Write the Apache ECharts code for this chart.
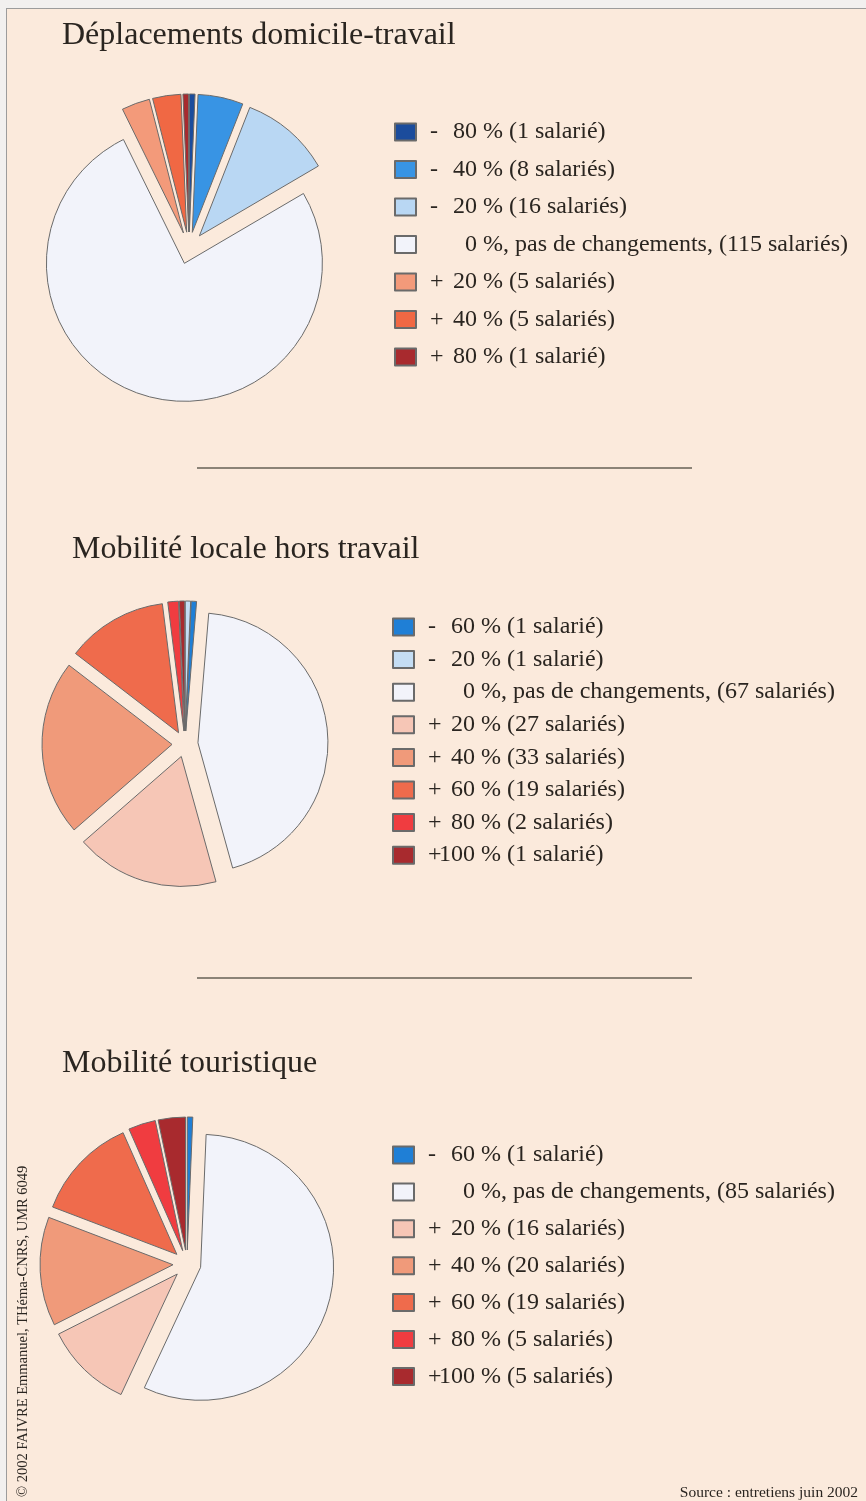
<!DOCTYPE html>
<html lang="fr">
<head>
<meta charset="utf-8">
<title>Mobilité</title>
<script src="https://cdn.jsdelivr.net/npm/echarts@6/dist/echarts.min.js"></script>
<style>
  html, body { margin: 0; padding: 0; background: #f2f0ef; }
  #frame {
    position: absolute; left: 6px; top: 8px; width: 866px; height: 1500px;
    background: #fbeadc; border-left: 1.5px solid #9c9c9c; border-top: 1.5px solid #9c9c9c;
  }
  #chart { position: absolute; left: 0; top: 0; width: 866px; height: 1501px; }
</style>
</head>
<body>
<div id="frame"></div>
<div id="chart"></div>
<script>
// Données (nombre de salariés par classe de variation)

// Déplacements domicile-travail
const pie1Labels = ['-80', '-40', '-20', '0', '+20', '+40', '+80'];
const pie1Values = [1, 8, 16, 115, 5, 5, 1];
const pie1Colors = ['#1b4c9c', '#3894e4', '#b9d7f3', '#f2f3fa', '#f39a7a', '#f06844', '#a82a2e'];

// Mobilité locale hors travail (ordre du camembert : -20 puis -60)
const pie2Labels = ['-20', '-60', '0', '+20', '+40', '+60', '+80', '+100'];
const pie2Values = [1, 1, 67, 27, 33, 19, 2, 1];
const pie2Colors = ['#c4ddf4', '#1f7fd6', '#f2f3fa', '#f6c6b6', '#f09a7a', '#ef6b4c', '#f03c40', '#a82a2e'];
const pie2LegendOrder = ['-60', '-20', '0', '+20', '+40', '+60', '+80', '+100'];

// Mobilité touristique
const pie3Labels = ['-60', '0', '+20', '+40', '+60', '+80', '+100'];
const pie3Values = [1, 85, 16, 20, 19, 5, 5];
const pie3Colors = ['#1f7fd6', '#f2f3fa', '#f6c6b6', '#f09a7a', '#ef6b4c', '#f03c40', '#a82a2e'];

const SERIF = '"Liberation Serif", "Times New Roman", serif';
const INK = '#2a2520';

/** Libellé complet d'une classe, tel qu'il figure dans la légende. */
function itemName(lab, n) {
  const who = n > 1 ? 'salariés' : 'salarié';
  if (lab === '0') return `0 %, pas de changements, (${n} ${who})`;
  return `${lab} % (${n} ${who})`;
}

function buildData(labels, values, colors) {
  return labels.map((lab, i) => ({
    name: itemName(lab, values[i]),
    value: values[i],
    selected: true,
    itemStyle: { color: colors[i] }
  }));
}

/** Légende : signe dans une colonne, nombres alignés à droite sur le « % ». */
function legendFormatter(name) {
  const m = name.match(/^([+-]?)(\d+)(.*)$/);
  if (!m) return name;
  const w = 47 - 12 * m[2].length;
  return `{p| }{s${w}|${m[1] || ' '}}{t|${m[2]}${m[3]}}`;
}

const richBase = { fontFamily: SERIF, fontSize: 24, lineHeight: 24, color: INK };
const rich = { p: Object.assign({ width: 9 }, richBase), t: Object.assign({}, richBase) };
[11, 23, 35].forEach(w => { rich['s' + w] = Object.assign({ width: w }, richBase); });

// Noms de légende dans l'ordre voulu, valeurs prises dans la série correspondante
function legendNames(order, labels, values) {
  return order.map(l => itemName(l, values[labels.indexOf(l)]));
}

function makeLegend(names, left, top, gap) {
  return {
    orient: 'vertical', left: left, top: top, padding: 0,
    itemWidth: 21, itemHeight: 17, itemGap: gap, icon: 'rect',
    selectedMode: false,
    data: names,
    formatter: legendFormatter,
    textStyle: { fontFamily: SERIF, fontSize: 24, lineHeight: 24, color: INK, rich: rich }
  };
}

function makePie(data, center, radius, offset) {
  return {
    type: 'pie', center: center, radius: radius,
    startAngle: 90, clockwise: true,
    selectedMode: 'multiple', selectedOffset: offset,
    label: { show: false }, labelLine: { show: false },
    emphasis: { disabled: true },
    itemStyle: { borderColor: '#6a6a6a', borderWidth: 1 },
    data: data
  };
}

const titleStyle = { fontFamily: SERIF, fontSize: 32, fontWeight: 'normal', color: INK };
const sepStyle = { stroke: '#8b8377', lineWidth: 2 };

const chart = echarts.init(document.getElementById('chart'), null, { renderer: 'canvas' });
chart.setOption({
  backgroundColor: 'transparent',
  animation: false,
  title: [
    { text: 'Déplacements domicile-travail', left: 62, top: 20, padding: 0, textStyle: titleStyle },
    { text: 'Mobilité locale hors travail', left: 72, top: 534, padding: 0, textStyle: titleStyle },
    { text: 'Mobilité touristique', left: 62, top: 1048, padding: 0, textStyle: titleStyle }
  ],
  legend: [
    makeLegend(legendNames(pie1Labels, pie1Labels, pie1Values), 394, 120, 13.5),
    makeLegend(legendNames(pie2LegendOrder, pie2Labels, pie2Values), 392, 615, 8.6),
    makeLegend(legendNames(pie3Labels, pie3Labels, pie3Values), 392, 1143, 12.9)
  ],
  series: [
    makePie(buildData(pie1Labels, pie1Values, pie1Colors), [189, 248], 138, 16),
    makePie(buildData(pie2Labels, pie2Values, pie2Colors), [185, 744], 130, 13),
    makePie(buildData(pie3Labels, pie3Values, pie3Colors), [187, 1264], 133, 14)
  ],
  graphic: [
    { type: 'line', shape: { x1: 197, y1: 468, x2: 692, y2: 468 }, style: sepStyle },
    { type: 'line', shape: { x1: 197, y1: 978, x2: 692, y2: 978 }, style: sepStyle },
    {
      type: 'text', x: 858, y: 1493,
      style: { text: 'Source : entretiens juin 2002', font: '15.5px ' + SERIF, fill: INK, textAlign: 'right', textVerticalAlign: 'middle' }
    },
    {
      type: 'text', x: 23, y: 1497, rotation: Math.PI / 2,
      style: { text: '© 2002 FAIVRE Emmanuel, THéma-CNRS, UMR 6049', font: '14.5px ' + SERIF, fill: INK, textAlign: 'left', textVerticalAlign: 'middle' }
    }
  ]
});
</script>
</body>
</html>
